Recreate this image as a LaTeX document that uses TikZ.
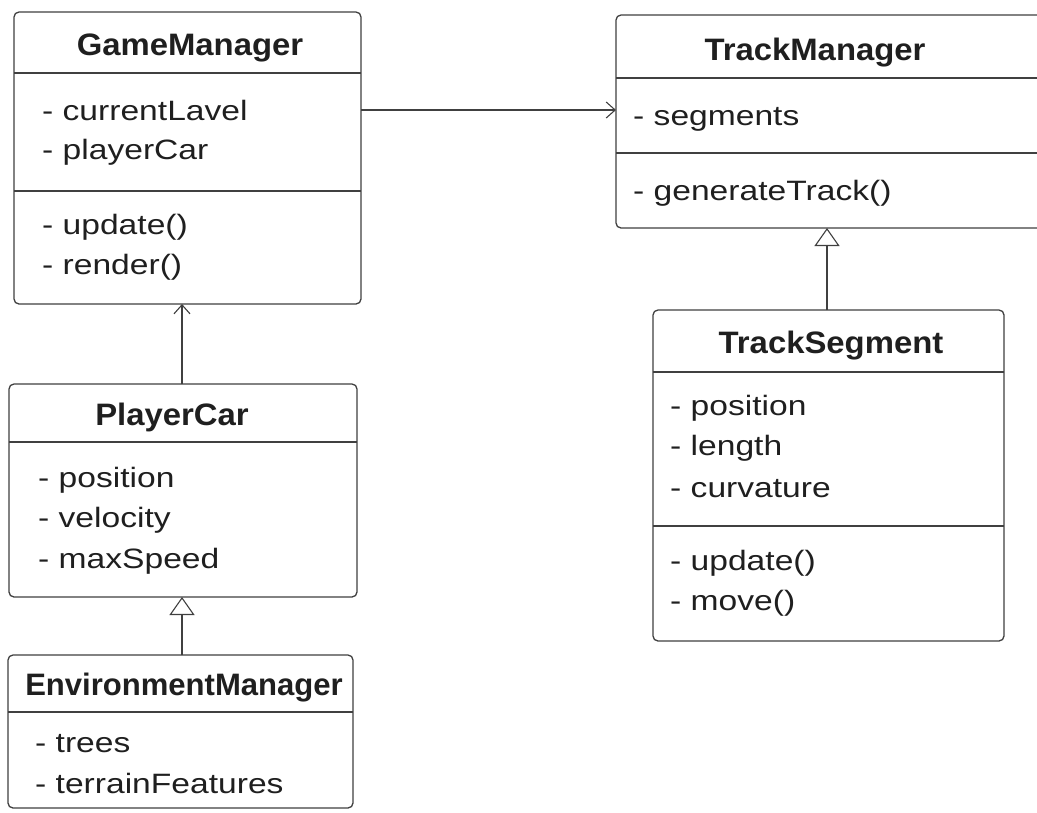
\documentclass[tikz,border=0pt]{standalone}
\usepackage{fontspec}
\setmainfont{Liberation Sans}
\newfontfamily\attrfont[FakeStretch=1.2]{Liberation Sans}
\newfontfamily\titlefont[FakeStretch=1.06]{Liberation Sans}
\usetikzlibrary{arrows.meta}
\definecolor{linec}{gray}{0.25}
\definecolor{textc}{gray}{0.12}
\tikzset{
  classbox/.style={draw=linec, line width=1.3pt, rounded corners=5pt, inner sep=0pt, outer sep=0pt, anchor=north west},
  attr/.style={anchor=base west, inner sep=0pt, font=\attrfont\fontsize{28}{32}\selectfont, text=textc},
  ctitle/.style={anchor=base, inner sep=0pt, font=\titlefont\bfseries\fontsize{31}{35}\selectfont, text=textc},
  sepline/.style={draw=linec, line width=1.3pt},
  dep/.style={draw=linec, line width=1.1pt, -{Straight Barb[length=9pt,width=16pt]}},
  inh/.style={draw=linec, line width=1.1pt, -{Triangle[open,length=18pt,width=25pt,fill=white]}},
}
\begin{document}
\begin{tikzpicture}[x=1pt,y=-1pt]
\clip (0,0) rectangle (1037,812);
\fill[white] (0,0) rectangle (1037,812);

% GameManager
\node[classbox, minimum width=347pt, minimum height=292pt] (gm) at (14,12) {};
\draw[sepline] (gm.west |- 0,73) -- (gm.east |- 0,73);
\draw[sepline] (gm.west |- 0,191) -- (gm.east |- 0,191);
\node[ctitle] (gmt) at (190,55) {GameManager};
\node[attr] (gma1) at (42,120) {- currentLavel};
\node[attr] (gma2) at (42,159) {- playerCar};
\node[attr] (gmm1) at (42,234) {- update()};
\node[attr] (gmm2) at (42,274) {- render()};

% TrackManager
\node[classbox, minimum width=450pt, minimum height=213pt] (tm) at (616,15) {};
\draw[sepline] (tm.west |- 0,78) -- (tm.east |- 0,78);
\draw[sepline] (tm.west |- 0,153) -- (tm.east |- 0,153);
\node[ctitle] (tmt) at (815,60) {TrackManager};
\node[attr] (tma1) at (633,125) {- segments};
\node[attr] (tmm1) at (633,200) {- generateTrack()};

% TrackSegment
\node[classbox, minimum width=351pt, minimum height=331pt] (ts) at (653,310) {};
\draw[sepline] (ts.west |- 0,372) -- (ts.east |- 0,372);
\draw[sepline] (ts.west |- 0,526) -- (ts.east |- 0,526);
\node[ctitle] (tst) at (831,353) {TrackSegment};
\node[attr] (tsa1) at (670,415) {- position};
\node[attr] (tsa2) at (670,455) {- length};
\node[attr] (tsa3) at (670,497) {- curvature};
\node[attr] (tsm1) at (670,570) {- update()};
\node[attr] (tsm2) at (670,610) {- move()};

% PlayerCar
\node[classbox, minimum width=348pt, minimum height=213pt] (pc) at (9,384) {};
\draw[sepline] (pc.west |- 0,442) -- (pc.east |- 0,442);
\node[ctitle] (pct) at (172,425) {PlayerCar};
\node[attr] (pca1) at (38,487) {- position};
\node[attr] (pca2) at (38,527) {- velocity};
\node[attr] (pca3) at (38,568) {- maxSpeed};

% EnvironmentManager
\node[classbox, minimum width=345pt, minimum height=153pt] (em) at (8,655) {};
\draw[sepline] (em.west |- 0,712) -- (em.east |- 0,712);
\node[ctitle] (emt) at (184,695) {\scalebox{0.945}[1]{EnvironmentManager}};
\node[attr] (ema1) at (35,752) {- trees};
\node[attr] (ema2) at (35,793) {- terrainFeatures};

% connectors
\draw[dep] (gm.east |- 0,110) -- (tm.west |- 0,110);
\draw[dep] (pc.north -| 182,0) -- (gm.south -| 182,0);
\draw[inh] (em.north -| 182,0) -- (pc.south -| 182,0);
\draw[inh] (ts.north -| 827,0) -- (tm.south -| 827,0);
\end{tikzpicture}
\end{document}
